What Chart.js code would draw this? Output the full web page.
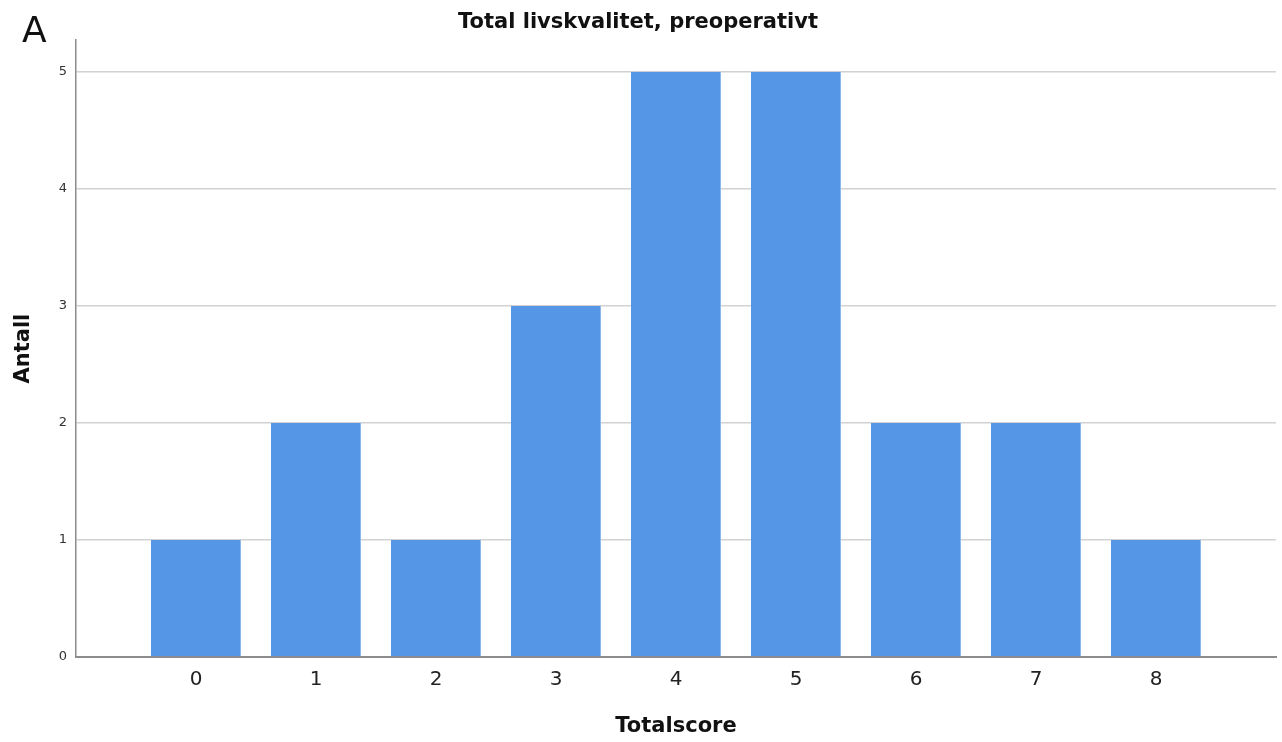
<!DOCTYPE html>
<html>
<head>
<meta charset="utf-8">
<script src="https://cdn.jsdelivr.net/npm/chart.js@4"></script>
<style>
  html, body { margin: 0; padding: 0; background: #fff; }
  #wrap { width: 1282px; height: 742px; }
</style>
</head>
<body>
<div id="wrap"><canvas id="chart" width="1282" height="742"></canvas></div>
<script>
// Data
const scores = [0, 1, 2, 3, 4, 5, 6, 7, 8];
const counts = [1, 2, 1, 3, 5, 5, 2, 2, 1];
const yTicks = [0, 1, 2, 3, 4, 5];

const FONT = "'DejaVu Sans', 'Liberation Sans', sans-serif";

// Panel letter "A"
const panelLetter = {
    id: 'panelLetter',
    afterDraw(chart) {
        const c = chart.ctx;
        c.save();
        c.font = '36px ' + FONT;
        c.fillStyle = '#111';
        c.textBaseline = 'alphabetic';
        c.fillText('A', 22, 42);
        c.restore();
    }
};

new Chart(document.getElementById('chart'), {
    type: 'bar',
    data: {
        datasets: [{
            data: scores.map((s, i) => ({ x: s, y: counts[i] })),
            backgroundColor: '#5596e6',
            borderColor: '#8db8ee',
            borderWidth: { right: 1, left: 0, top: 0, bottom: 0 },
            borderSkipped: false,
            barPercentage: 0.75,
            categoryPercentage: 1
        }]
    },
    options: {
        responsive: false,
        animation: false,
        layout: { padding: { left: 0, right: 6, top: 0, bottom: 0 } },
        plugins: {
            legend: { display: false },
            tooltip: { enabled: false },
            title: {
                display: true,
                text: 'Total livskvalitet, preoperativt',
                color: '#111',
                font: { family: FONT, size: 21, weight: 'bold', lineHeight: 1.2 },
                padding: { top: 10, bottom: 5 }
            }
        },
        scales: {
            x: {
                type: 'linear',
                min: -1,
                max: 9,
                offset: false,
                afterBuildTicks: s => { s.ticks = scores.map(v => ({ value: v })); },
                afterFit: s => { s.height = 85; },
                grid: { display: false, drawTicks: false },
                border: { display: true, color: '#8c8c8c', width: 2 },
                ticks: {
                    color: '#222',
                    padding: 11,
                    font: { family: FONT, size: 20 }
                },
                title: {
                    display: true,
                    text: 'Totalscore',
                    color: '#111',
                    font: { family: FONT, size: 21, weight: 'bold', lineHeight: 1.2 },
                    padding: { top: 0, bottom: 3 }
                }
            },
            y: {
                min: 0,
                max: 5.27,
                afterBuildTicks: s => { s.ticks = yTicks.map(v => ({ value: v })); },
                afterFit: s => { s.width = 76; },
                grid: { color: '#d2d2d2', lineWidth: 1.5, drawTicks: false },
                border: { display: true, color: '#8c8c8c', width: 1.5 },
                ticks: {
                    color: '#333',
                    padding: 9,
                    font: { family: FONT, size: 13 }
                },
                title: {
                    display: true,
                    text: 'Antall',
                    color: '#111',
                    font: { family: FONT, size: 21, weight: 'bold', lineHeight: 1.2 },
                    padding: { top: 11, bottom: 0 }
                }
            }
        }
    },
    plugins: [panelLetter]
});
</script>
</body>
</html>
